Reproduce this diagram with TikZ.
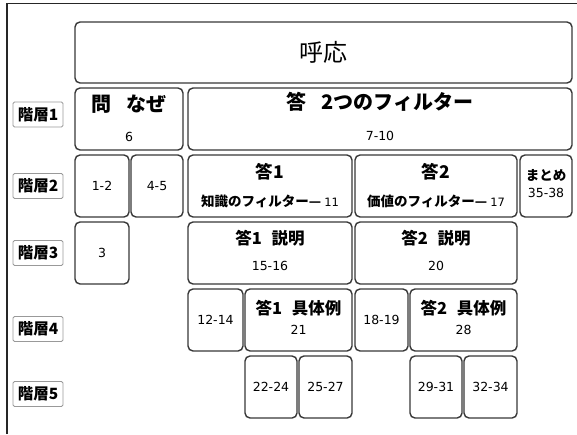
\documentclass[tikz,border=0pt]{standalone}
\usepackage{fontspec}
\setmainfont{Noto Sans CJK JP}
\newfontfamily\numf{DejaVu Sans}
\newcommand\fsz[1]{\fontsize{#1}{#1}\selectfont}
\tikzset{
  box/.style={draw=black!78, line width=1.4pt, rounded corners=5pt, inner sep=0pt},
  lvl/.style={draw=black!40, line width=0.8pt, rounded corners=1.5pt, minimum width=50pt, minimum height=25pt, inner sep=0pt, font=\fsz{15.5}\bfseries},
  num/.style={inner sep=0pt, font=\numf\fsz{12.5}},
  jb/.style={inner sep=0pt, font=\fsz{#1}\bfseries},
}
\begin{document}
\begin{tikzpicture}[x=1pt,y=-1pt]
\fill[white] (0,0) rectangle (577,434);
\useasboundingbox (0,0) rectangle (577,434);
\draw[line width=1.8pt, black!85] (7,434) -- (7,3.5) -- (577,3.5);
% level labels
\node[lvl] (l1) at (38,114.5) {階層1};
\node[lvl] (l2) at (38,186) {階層2};
\node[lvl] (l3) at (38,253) {階層3};
\node[lvl] (l4) at (38,329) {階層4};
\node[lvl] (l5) at (38,394) {階層5};
% top
\node[box, minimum width=497pt, minimum height=61pt, font=\fsz{24}] (hoou) at (323.5,52.5) {呼応};
% row 1
\node[box, minimum width=108pt, minimum height=62pt] (q) at (129,119) {};
\node[jb=20] (qt) at (129,104) {問\hspace{0.75em}なぜ};
\node[num] (qn) at (129,137) {6};
\node[box, minimum width=384pt, minimum height=62pt] (a) at (380,119) {};
\node[jb=20] (at) at (380,102) {答\hspace{0.75em}2つのフィルター};
\node[num] (an) at (380,136) {7-10};
% row 2
\node[box, minimum width=54pt, minimum height=62pt, num] (b12) at (102,186) {1-2};
\node[box, minimum width=52pt, minimum height=62pt, num] (b45) at (157,186) {4-5};
\node[box, minimum width=164pt, minimum height=62pt] (a1) at (270,186) {};
\node[jb=17.5] (a1t) at (270,172) {答1};
\node[inner sep=0pt] (a1n) at (270,201) {\fsz{13.5}\bfseries 知識のフィルター—\ \numf\mdseries\fsz{11.5}11};
\node[box, minimum width=162pt, minimum height=62pt] (a2) at (436,186) {};
\node[jb=17.5] (a2t) at (436,172) {答2};
\node[inner sep=0pt] (a2n) at (436,201) {\fsz{13.5}\bfseries 価値のフィルター—\ \numf\mdseries\fsz{11.5}17};
\node[box, minimum width=52pt, minimum height=62pt] (mt) at (546,186) {};
\node[jb=13.5] (mtt) at (546,175) {まとめ};
\node[num] (mtn) at (546,193) {35-38};
% row 3
\node[box, minimum width=54pt, minimum height=62pt, num] (b3) at (102,253) {3};
\node[box, minimum width=164pt, minimum height=62pt] (a1s) at (270,253) {};
\node[jb=16.5] (a1st) at (270,238) {答1\hspace{0.6em}説明};
\node[num] (a1sn) at (270,266) {15-16};
\node[box, minimum width=162pt, minimum height=62pt] (a2s) at (436,253) {};
\node[jb=16.5] (a2st) at (436,238) {答2\hspace{0.6em}説明};
\node[num] (a2sn) at (436,266) {20};
% row 4
\node[box, minimum width=55pt, minimum height=62pt, num] (b1214) at (215.5,320) {12-14};
\node[box, minimum width=107pt, minimum height=62pt] (a1e) at (298.5,320) {};
\node[jb=16.5] (a1et) at (298.5,308) {答1\hspace{0.6em}具体例};
\node[num] (a1en) at (298.5,330) {21};
\node[box, minimum width=53pt, minimum height=62pt, num] (b1819) at (381.5,320) {18-19};
\node[box, minimum width=107pt, minimum height=62pt] (a2e) at (463.5,320) {};
\node[jb=16.5] (a2et) at (463.5,308) {答2\hspace{0.6em}具体例};
\node[num] (a2en) at (463.5,330) {28};
% row 5
\node[box, minimum width=52pt, minimum height=62pt, num] (b2224) at (271,387) {22-24};
\node[box, minimum width=53pt, minimum height=62pt, num] (b2527) at (325.5,387) {25-27};
\node[box, minimum width=52pt, minimum height=62pt, num] (b2931) at (436,387) {29-31};
\node[box, minimum width=53pt, minimum height=62pt, num] (b3234) at (490.5,387) {32-34};
\end{tikzpicture}
\end{document}
